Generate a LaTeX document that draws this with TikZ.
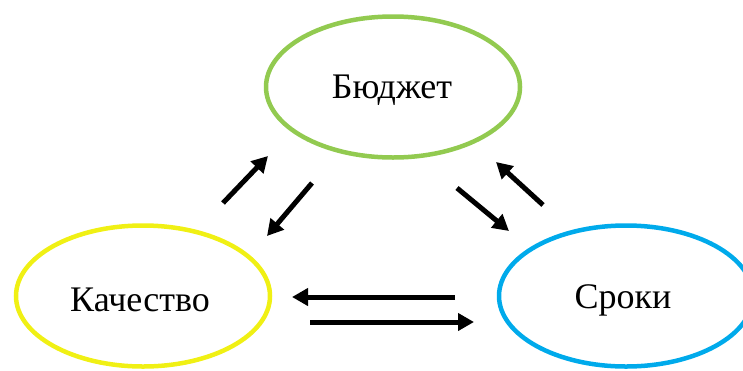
\documentclass[tikz,border=0pt]{standalone}
\usepackage{fontspec}
\setmainfont{Liberation Serif}
\usetikzlibrary{shapes.geometric,arrows.meta}
\definecolor{cgreen}{RGB}{146,202,80}
\definecolor{cyellow}{RGB}{240,240,20}
\definecolor{cblue}{RGB}{0,170,235}
\tikzset{
  oval/.style={ellipse, draw, line width=4.5pt, inner sep=0pt, minimum width=254pt, minimum height=141pt},
  txt/.style={inner sep=0pt, font=\fontsize{36}{40}\selectfont},
  arr/.style={line width=5pt, -{Triangle[length=16pt,width=17pt]}}
}
\begin{document}
\begin{tikzpicture}[x=1pt,y=-1pt]
\useasboundingbox (0,0) rectangle (743,370);
\clip (0,0) rectangle (743,370);
\node[oval, draw=cgreen] (b) at (393,87) {};
\node[txt] (bt) at (392,90) {Бюджет};
\node[oval, draw=cyellow] (q) at (143,296) {};
\node[txt] (qt) at (140,300) {Качество};
\node[oval, draw=cblue] (s) at (626,296) {};
\node[txt] (st) at (623,300) {Сроки};
\coordinate (a1s) at (223,203); \coordinate (a1e) at (268,156);
\coordinate (a2s) at (312,183); \coordinate (a2e) at (267,236);
\coordinate (a3s) at (457,188); \coordinate (a3e) at (509,231);
\coordinate (a4s) at (543,205); \coordinate (a4e) at (496,162);
\coordinate (a5s) at (455,297); \coordinate (a5e) at (292,297);
\coordinate (a6s) at (310,322); \coordinate (a6e) at (474,322);
\draw[arr] (a1s) -- (a1e);
\draw[arr] (a2s) -- (a2e);
\draw[arr] (a3s) -- (a3e);
\draw[arr] (a4s) -- (a4e);
\draw[arr] (a5s) -- (a5e);
\draw[arr] (a6s) -- (a6e);
\end{tikzpicture}
\end{document}
